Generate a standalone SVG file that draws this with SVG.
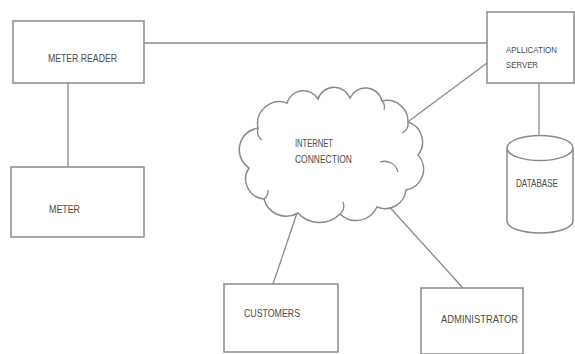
<svg xmlns="http://www.w3.org/2000/svg" width="575" height="354" viewBox="0 0 575 354">
<style>
.box{fill:#fff;stroke:#8a8a8a;stroke-width:1.5}
.ln{fill:none;stroke:#8a8a8a;stroke-width:1.3}
.t{font-family:"Liberation Sans",Arial,sans-serif;font-size:11px;fill:#4a4a4a}
.s{font-size:9.5px}
</style>
<rect width="575" height="354" fill="#fff"/>
<g id="connectors">
<line class="ln" x1="144" y1="43" x2="487" y2="43"/>
<line class="ln" x1="68" y1="83" x2="68" y2="167"/>
<line class="ln" x1="539" y1="83" x2="539" y2="136"/>
<line class="ln" x1="409" y1="121" x2="487" y2="63"/>
<line class="ln" x1="297" y1="213" x2="273" y2="284"/>
<line class="ln" x1="385" y1="202" x2="463" y2="288"/>
</g>
<g id="meter-reader">
<rect class="box" x="13" y="21" width="131" height="62"/>
<text class="t" x="48" y="62" textLength="69" lengthAdjust="spacingAndGlyphs">METER READER</text>
</g>
<g id="meter">
<rect class="box" x="11" y="167" width="133" height="70"/>
<text class="t" x="49" y="213" textLength="31" lengthAdjust="spacingAndGlyphs">METER</text>
</g>
<g id="application-server">
<rect class="box" x="487" y="12" width="87" height="71"/>
<text class="t s" x="506" y="53" textLength="51" lengthAdjust="spacingAndGlyphs">APLLICATION</text>
<text class="t s" x="506" y="68" textLength="32" lengthAdjust="spacingAndGlyphs">SERVER</text>
</g>
<g id="database">
<path class="box" d="M507,148 L507,221 A33,12 0 0,0 573,221 L573,148 A33,12.5 0 0,0 507,148 A33,12.5 0 0,0 573,148"/>
<text class="t" x="516" y="187" textLength="42" lengthAdjust="spacingAndGlyphs">DATABASE</text>
</g>
<g id="internet-connection">
<path class="box" d="M258,128 A22,22 0 0,1 287,103 A17,17 0 0,1 318,99 A17,17 0 0,1 350,98 A17,17 0 0,1 382,101 A21,21 0 0,1 408,122 A21,21 0 0,1 418,155 A21,21 0 0,1 406,190 A21,21 0 0,1 377,207 A23,23 0 0,1 340,214 A29,29 0 0,1 298,213 A23,23 0 0,1 264,199 A20,20 0 0,1 249,168 A22,22 0 0,1 258,128 Z"/>
<path class="ln" d="M258,128 A10,10 0 0,0 262,140"/>
<path class="ln" d="M382,101 A9,9 0 0,1 384,110"/>
<path class="ln" d="M408,122 A10,10 0 0,1 402,133"/>
<path class="ln" d="M380,162 A14,14 0 0,1 398,172"/>
<path class="ln" d="M340,214 A10,10 0 0,0 343,202"/>
<path class="ln" d="M264,199 A10,10 0 0,0 268,190"/>
<text class="t" x="295" y="147" textLength="38" lengthAdjust="spacingAndGlyphs">INTERNET</text>
<text class="t" x="295" y="163" textLength="57" lengthAdjust="spacingAndGlyphs">CONNECTION</text>
</g>
<g id="customers">
<rect class="box" x="224" y="284" width="114" height="68"/>
<text class="t" x="244" y="317" textLength="56" lengthAdjust="spacingAndGlyphs">CUSTOMERS</text>
</g>
<g id="administrator">
<rect class="box" x="421" y="288" width="102" height="66"/>
<text class="t" x="441" y="323" textLength="77" lengthAdjust="spacingAndGlyphs">ADMINISTRATOR</text>
</g>
</svg>
